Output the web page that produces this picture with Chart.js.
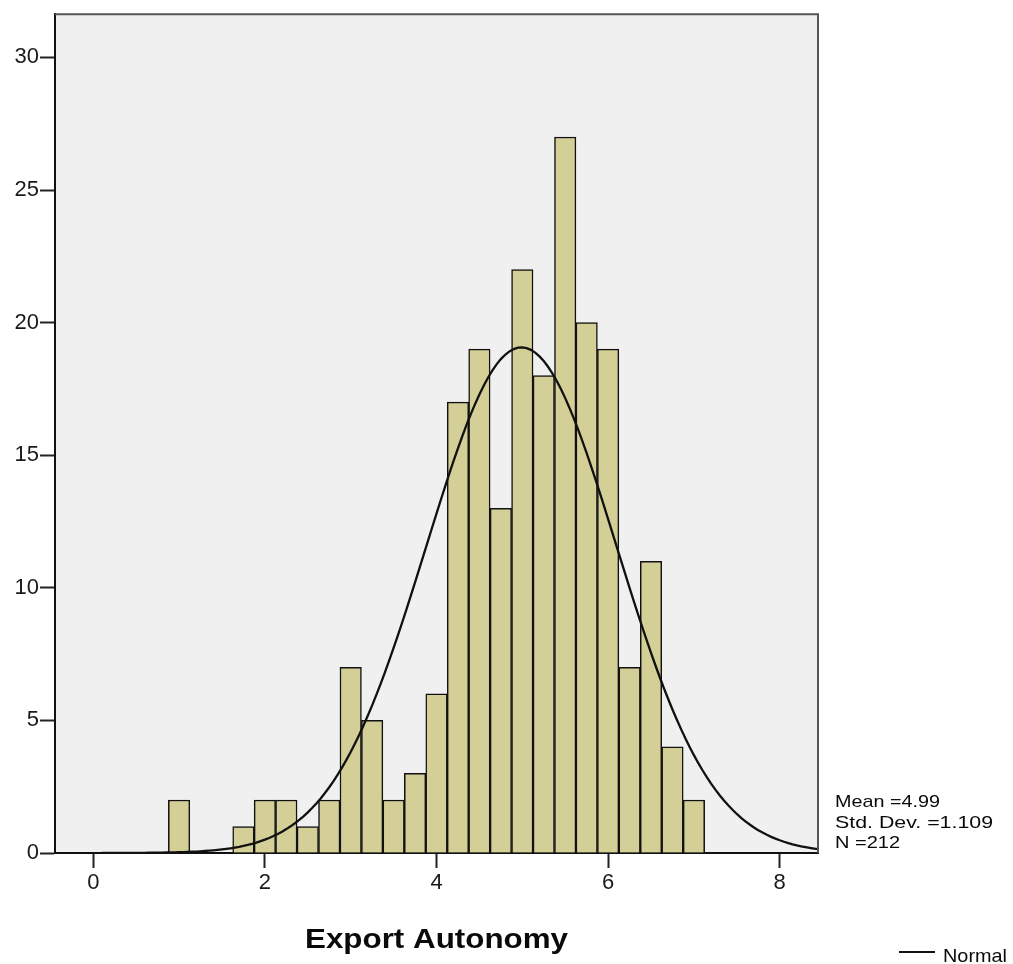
<!DOCTYPE html>
<html lang="en">
<head>
<meta charset="UTF-8">
<title>Export Autonomy</title>
<script src="https://cdn.jsdelivr.net/npm/chart.js"></script>
<style>
  html, body { margin: 0; padding: 0; background: #fff; }
  #wrap { width: 1013px; height: 964px; position: relative; }
</style>
</head>
<body>
<div id="wrap"><canvas id="histChart"></canvas></div>
<script>
// histogram bins (bin centre, width 0.25) and counts
const binCenters = [1.0, 1.25, 1.5, 1.75, 2.0, 2.25, 2.5, 2.75, 3.0, 3.25, 3.5, 3.75,
                    4.0, 4.25, 4.5, 4.75, 5.0, 5.25, 5.5, 5.75, 6.0, 6.25, 6.5, 6.75, 7.0];
const counts     = [2, 0, 0, 1, 2, 2, 1, 2, 7, 5, 2, 3,
                    6, 17, 19, 13, 22, 18, 27, 20, 19, 7, 11, 4, 2];
const binWidth = 0.25;

// summary statistics shown beside the plot
const statMean = 4.99;
const statStdDev = 1.109;
const statN = 212;

const xTickValues = [0, 2, 4, 6, 8];
const yTickValues = [0, 5, 10, 15, 20, 25, 30];
const xTitle = 'Export Autonomy';

// normal curve scaled to the histogram (N * bin width * density)
function normalCurve(mean, sd, n, width, from, to, step) {
    const pts = [];
    const k = n * width / (sd * Math.sqrt(2 * Math.PI));
    for (let x = from; x <= to + 1e-9; x += step) {
        const z = (x - mean) / sd;
        pts.push({ x: +x.toFixed(3), y: k * Math.exp(-0.5 * z * z) });
    }
    return pts;
}
const curvePoints = normalCurve(statMean, statStdDev, statN, binWidth, 0.1, 8.45, 0.05);

const barPoints = binCenters.map((c, i) => ({ x: c, y: counts[i] > 0 ? counts[i] : null }));

// stretched text helper (squeezes/stretches to a given width)
function drawFitted(ctx, text, x, y, font, width, align) {
    ctx.save();
    ctx.font = font;
    const w = ctx.measureText(text).width;
    const sx = width / w;
    ctx.translate(x, y);
    ctx.scale(sx, 1);
    let ox = 0;
    if (align === 'center') ox = -w / 2;
    else if (align === 'right') ox = -w;
    ctx.fillText(text, ox, 0);
    ctx.restore();
}

const framePlugin = {
    id: 'frame',
    beforeDraw(chart) {
        const { ctx, chartArea: a } = chart;
        ctx.save();
        ctx.fillStyle = '#f0f0f0';
        ctx.fillRect(a.left, a.top, a.right - a.left, a.bottom - a.top);
        ctx.restore();
    },
    afterDraw(chart) {
        const { ctx, chartArea: a } = chart;
        ctx.save();
        // top and right border of the plot frame
        ctx.strokeStyle = '#555';
        ctx.lineWidth = 2;
        ctx.beginPath();
        ctx.moveTo(a.left, a.top);
        ctx.lineTo(a.right, a.top);
        ctx.lineTo(a.right, a.bottom);
        ctx.stroke();

        ctx.fillStyle = '#0a0a0a';
        ctx.textBaseline = 'alphabetic';
        drawFitted(ctx, xTitle, (a.left + a.right) / 2, 948, 'bold 28px "Liberation Sans", Arial, sans-serif', 263, 'center');

        const statFont = '17px "Liberation Sans", Arial, sans-serif';
        drawFitted(ctx, 'Mean =' + statMean.toFixed(2), 835, 807, statFont, 105, 'left');
        drawFitted(ctx, 'Std. Dev. =' + statStdDev.toFixed(3), 835, 828, statFont, 158, 'left');
        drawFitted(ctx, 'N =' + statN, 835, 848, statFont, 65, 'left');

        // legend entry for the fitted curve
        ctx.strokeStyle = '#111';
        ctx.lineWidth = 2;
        ctx.beginPath();
        ctx.moveTo(899, 952);
        ctx.lineTo(935, 952);
        ctx.stroke();
        drawFitted(ctx, 'Normal', 943, 962, '19px "Liberation Sans", Arial, sans-serif', 64, 'left');
        ctx.restore();
    }
};

const tickFont = { family: '"Liberation Sans", Arial, sans-serif', size: 22 };

new Chart(document.getElementById('histChart'), {
    type: 'bar',
    data: {
        datasets: [
            {
                type: 'line',
                label: 'Normal',
                data: curvePoints,
                borderColor: '#111',
                borderWidth: 2.3,
                pointRadius: 0,
                tension: 0,
                order: 0
            },
            {
                label: 'Frequency',
                data: barPoints,
                backgroundColor: '#d3cf97',
                borderColor: '#111',
                borderWidth: 1.5,
                barPercentage: 1.0,
                categoryPercentage: 1.0,
                grouped: false,
                order: 1
            }
        ]
    },
    options: {
        responsive: true,
        maintainAspectRatio: false,
        animation: false,
        layout: { padding: { top: 11, right: 195, bottom: 0, left: 0 } },
        plugins: {
            legend: { display: false },
            title: { display: false },
            tooltip: { enabled: false }
        },
        scales: {
            x: {
                type: 'linear',
                min: -0.446,
                max: 8.446,
                offset: false,
                afterBuildTicks: s => { s.ticks = xTickValues.map(v => ({ value: v })); },
                afterFit: s => { s.height = 111; },
                grid: { display: true, offset: false, drawOnChartArea: false, drawTicks: true, tickLength: 15, tickWidth: 2, color: '#222' },
                border: { display: true, color: '#111', width: 2 },
                ticks: { font: tickFont, color: '#1a1a1a', padding: 2, maxRotation: 0 }
            },
            y: {
                min: 0,
                max: 31.63,
                afterBuildTicks: s => { s.ticks = yTickValues.map(v => ({ value: v })); },
                afterFit: s => { s.width = 55; },
                grid: { display: true, drawOnChartArea: false, drawTicks: true, tickLength: 15, tickWidth: 2, color: '#222' },
                border: { display: true, color: '#111', width: 2 },
                ticks: { font: tickFont, color: '#1a1a1a', padding: 1 }
            }
        }
    },
    plugins: [framePlugin]
});
</script>
</body>
</html>
